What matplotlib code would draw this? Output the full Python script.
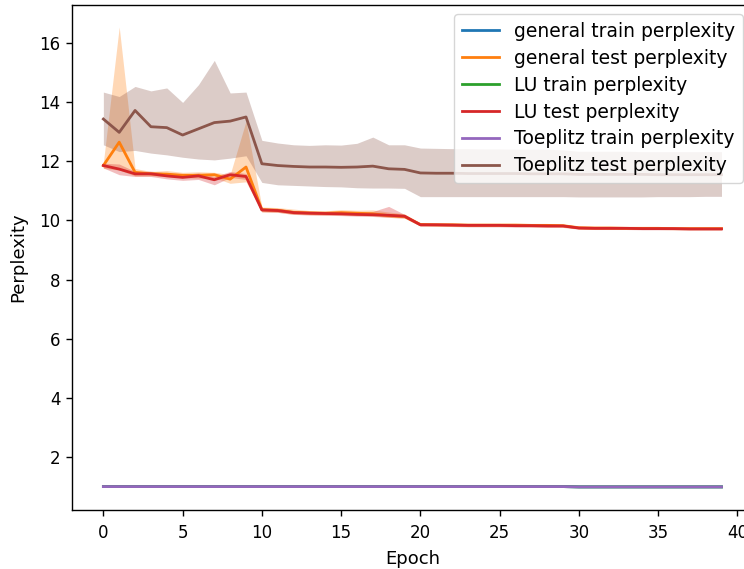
import matplotlib.pyplot as plt

# Perplexity per epoch for general, LU and Toeplitz models
epochs = list(range(40))

general_train = [1.01, 1.01, 1.01, 1.01, 1.01, 1.01, 1.01, 1.01, 1.01, 1.01,
                 1.01, 1.01, 1.01, 1.01, 1.01, 1.01, 1.01, 1.01, 1.01, 1.01,
                 1.01, 1.01, 1.01, 1.01, 1.01, 1.01, 1.01, 1.01, 1.01, 1.01,
                 1.00, 1.00, 1.00, 1.00, 1.00, 1.00, 1.00, 1.00, 1.00, 1.00]
lu_train = list(general_train)
toeplitz_train = list(general_train)

general_test = [11.85, 12.64, 11.62, 11.57, 11.56, 11.52, 11.52, 11.54, 11.39, 11.80,
                10.36, 10.34, 10.27, 10.25, 10.24, 10.26, 10.24, 10.22, 10.16, 10.13,
                9.86, 9.85, 9.85, 9.84, 9.84, 9.84, 9.84, 9.83, 9.83, 9.82,
                9.75, 9.74, 9.74, 9.73, 9.73, 9.73, 9.72, 9.72, 9.72, 9.72]
general_test_hi = [11.95, 16.53, 11.75, 11.65, 11.68, 11.62, 11.64, 11.62, 11.55, 13.35,
                   10.45, 10.43, 10.38, 10.33, 10.32, 10.36, 10.34, 10.35, 10.28, 10.22,
                   9.91, 9.90, 9.90, 9.89, 9.89, 9.89, 9.89, 9.88, 9.88, 9.87,
                   9.79, 9.78, 9.78, 9.77, 9.77, 9.77, 9.76, 9.76, 9.76, 9.76]
general_test_lo = [11.75, 11.70, 11.50, 11.50, 11.48, 11.44, 11.42, 11.44, 11.25, 11.30,
                   10.28, 10.27, 10.20, 10.19, 10.18, 10.18, 10.17, 10.15, 10.10, 10.07,
                   9.81, 9.80, 9.80, 9.79, 9.79, 9.79, 9.79, 9.78, 9.78, 9.77,
                   9.71, 9.70, 9.70, 9.69, 9.69, 9.69, 9.68, 9.68, 9.68, 9.68]

lu_test = [11.85, 11.73, 11.57, 11.57, 11.50, 11.45, 11.50, 11.37, 11.54, 11.48,
           10.35, 10.33, 10.26, 10.24, 10.23, 10.22, 10.20, 10.19, 10.17, 10.14,
           9.85, 9.85, 9.84, 9.83, 9.83, 9.83, 9.82, 9.82, 9.81, 9.81,
           9.74, 9.73, 9.73, 9.73, 9.72, 9.72, 9.72, 9.71, 9.71, 9.71]
lu_test_hi = [11.93, 11.90, 11.65, 11.66, 11.60, 11.55, 11.60, 11.48, 11.65, 11.58,
              10.42, 10.40, 10.33, 10.31, 10.30, 10.29, 10.28, 10.30, 10.47, 10.20,
              9.90, 9.89, 9.88, 9.87, 9.87, 9.87, 9.86, 9.86, 9.85, 9.85,
              9.78, 9.77, 9.77, 9.77, 9.76, 9.76, 9.76, 9.75, 9.75, 9.75]
lu_test_lo = [11.77, 11.54, 11.48, 11.48, 11.40, 11.35, 11.38, 11.20, 11.45, 11.38,
              10.29, 10.27, 10.20, 10.18, 10.17, 10.16, 10.14, 10.13, 10.10, 10.08,
              9.80, 9.80, 9.79, 9.78, 9.78, 9.78, 9.77, 9.77, 9.76, 9.76,
              9.70, 9.69, 9.69, 9.69, 9.68, 9.68, 9.68, 9.67, 9.67, 9.67]

toeplitz_test = [13.42, 12.97, 13.71, 13.16, 13.13, 12.88, 13.09, 13.30, 13.35, 13.49,
                 11.91, 11.85, 11.82, 11.80, 11.80, 11.79, 11.80, 11.83, 11.74, 11.72,
                 11.60, 11.59, 11.59, 11.58, 11.58, 11.58, 11.58, 11.57, 11.57, 11.57,
                 11.55, 11.55, 11.55, 11.55, 11.55, 11.54, 11.54, 11.54, 11.54, 11.54]
toeplitz_test_hi = [14.33, 14.18, 14.52, 14.37, 14.47, 13.98, 14.58, 15.40, 14.30, 14.33,
                    12.70, 12.61, 12.55, 12.53, 12.55, 12.54, 12.60, 12.81, 12.55, 12.55,
                    12.44, 12.43, 12.42, 12.42, 12.41, 12.41, 12.40, 12.40, 12.40, 12.38,
                    12.33, 12.33, 12.33, 12.33, 12.32, 12.32, 12.32, 12.32, 12.32, 12.32]
toeplitz_test_lo = [12.55, 12.32, 12.36, 12.27, 12.21, 12.13, 12.07, 12.04, 12.10, 12.18,
                    11.28, 11.20, 11.18, 11.16, 11.14, 11.13, 11.10, 11.09, 11.09, 11.08,
                    10.80, 10.80, 10.80, 10.80, 10.80, 10.80, 10.80, 10.80, 10.80, 10.80,
                    10.79, 10.79, 10.79, 10.79, 10.79, 10.80, 10.80, 10.80, 10.81, 10.81]

fig = plt.figure(figsize=(7.44, 5.69), dpi=100)
# axes run a bit past the right edge, like in the cropped original
ax = fig.add_axes([0.0974, 0.1037, 0.9139, 0.8875])

lw = 2.0
ax.plot(epochs, general_train, color='C0', lw=lw, label='general train perplexity')
ax.plot(epochs, general_test, color='C1', lw=lw, label='general test perplexity')
ax.fill_between(epochs, general_test_lo, general_test_hi, color='C1', alpha=0.3, lw=0)
ax.plot(epochs, lu_train, color='C2', lw=lw, label='LU train perplexity')
ax.plot(epochs, lu_test, color='C3', lw=lw, label='LU test perplexity')
ax.fill_between(epochs, lu_test_lo, lu_test_hi, color='C3', alpha=0.3, lw=0)
ax.plot(epochs, toeplitz_train, color='C4', lw=lw, label='Toeplitz train perplexity')
ax.plot(epochs, toeplitz_test, color='C5', lw=lw, label='Toeplitz test perplexity')
ax.fill_between(epochs, toeplitz_test_lo, toeplitz_test_hi, color='C5', alpha=0.3, lw=0)

ax.set_xlim(-1.95, 40.95)
ax.set_ylim(0.22, 17.27)
ax.set_xticks(range(0, 41, 5))
ax.set_yticks(range(2, 17, 2))
ax.tick_params(labelsize=12, length=4.5, width=1)
ax.tick_params(axis='x', pad=5.5)
ax.tick_params(axis='y', pad=4)
for s in ax.spines.values():
    s.set_linewidth(1.0)
ax.set_xlabel('Epoch', fontsize=13, labelpad=6)
ax.set_ylabel('Perplexity', fontsize=13, labelpad=9)
ax.legend(loc='upper right', fontsize=13.5, labelspacing=0.42)

plt.savefig('out.png', dpi=100)
